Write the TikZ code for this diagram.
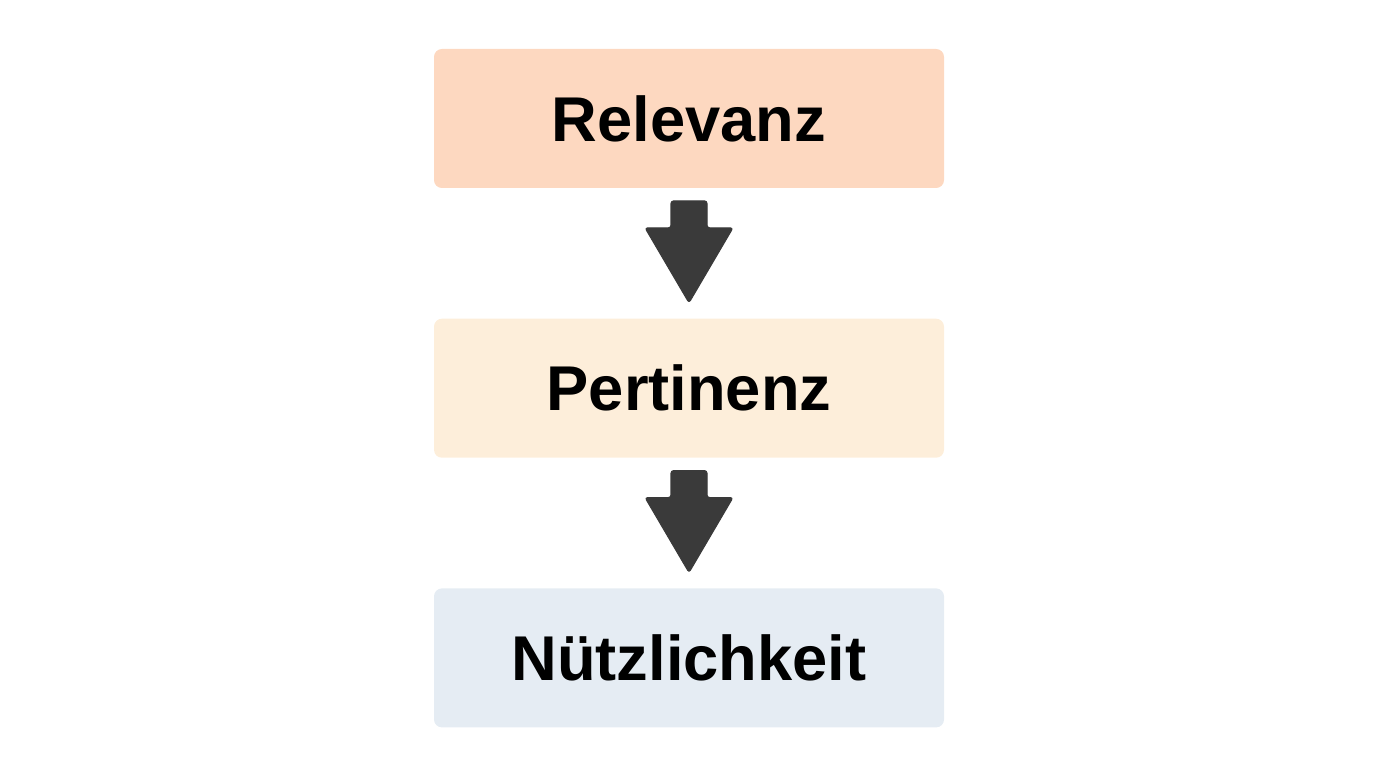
\documentclass[tikz,border=0pt]{standalone}
\usepackage{fontspec}
\usetikzlibrary{positioning, calc}
\newfontfamily\labelfont{Liberation Sans}
\definecolor{relfill}{HTML}{FDD8C0}
\definecolor{perfill}{HTML}{FDEEDA}
\definecolor{nutfill}{HTML}{E5ECF3}
\definecolor{arrowgray}{HTML}{3A3A3A}
\tikzset{
	box/.style={rounded corners=4.5pt, minimum width=10.2cm, minimum height=2.78cm,
		font=\labelfont\bfseries\fontsize{36}{42}\selectfont},
	flow/.style={fill=arrowgray, draw=arrowgray, line width=0.6pt, rounded corners=1.5pt, line join=round},
	node distance=2.6cm}

\begin{document}
\begin{tikzpicture}
		\useasboundingbox (0,0) rectangle (27.58,15.52);
		
		\node[box, fill=relfill] (rel) at (13.78,13.15) {Relevanz};
		\node[box, fill=perfill, below=of rel] (per) {Pertinenz};
		\node[box, fill=nutfill, below=of per] (nuetz) {Nützlichkeit};
		
		% block arrows between the boxes
		\foreach \a/\b in {rel/per, per/nuetz}{
			\filldraw[flow] ($(\a.south)+(-0.36,-0.25)$) -- ($(\a.south)+(0.36,-0.25)$)
			-- ($(\a.south)+(0.36,-0.79)$) -- ($(\a.south)+(0.88,-0.79)$)
			-- ($(\b.north)+(0,0.31)$)
			-- ($(\a.south)+(-0.88,-0.79)$) -- ($(\a.south)+(-0.36,-0.79)$) -- cycle;
		}
	\end{tikzpicture}
\end{document}
